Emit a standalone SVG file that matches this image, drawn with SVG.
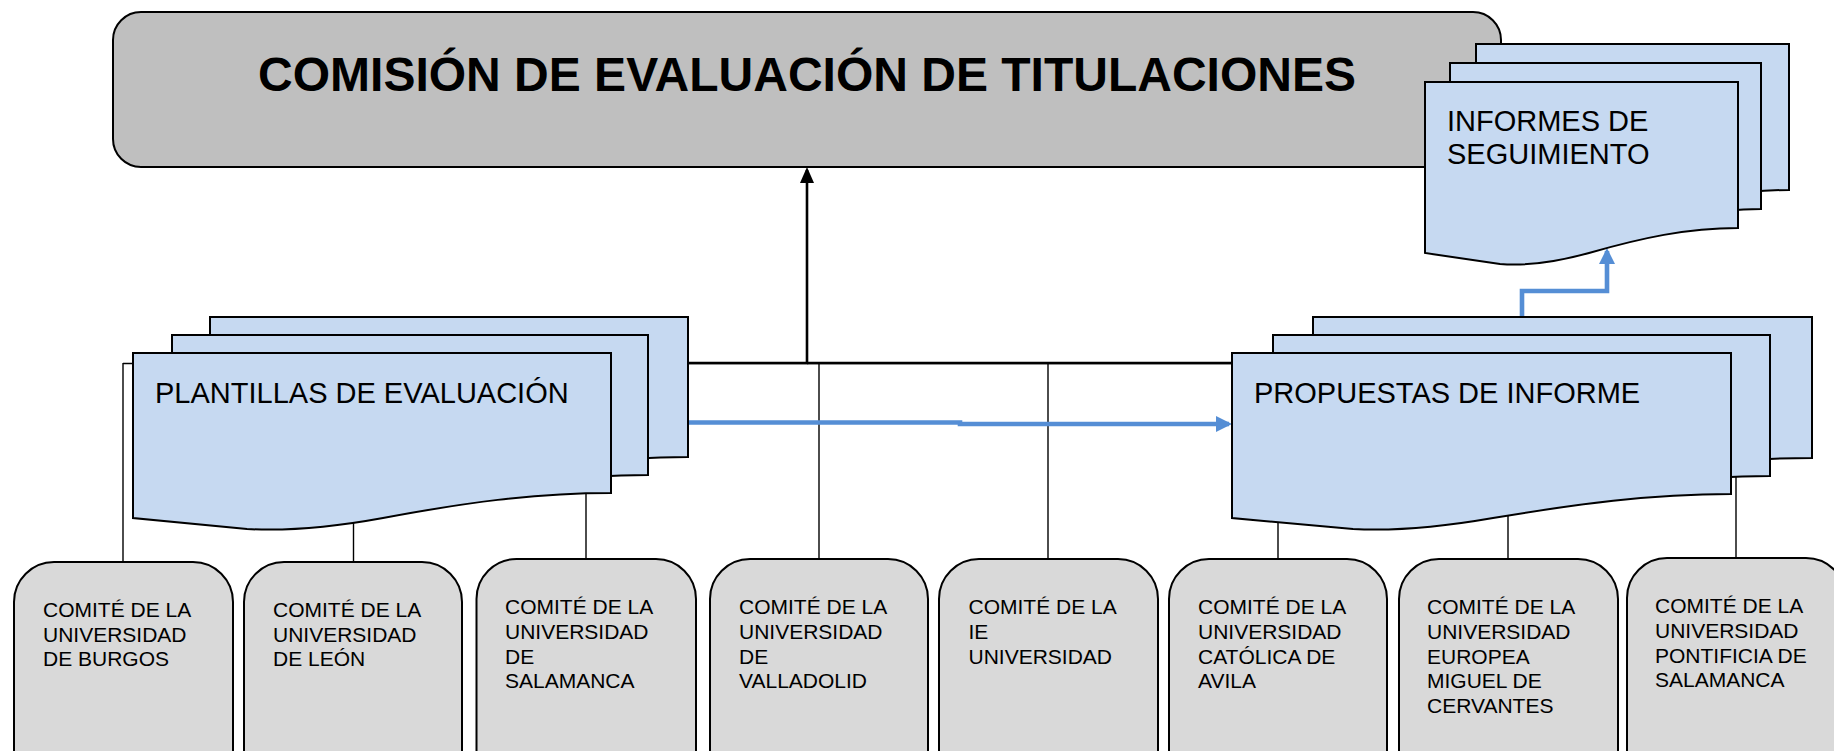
<svg xmlns="http://www.w3.org/2000/svg" width="1834" height="751" viewBox="0 0 1834 751">
<style>
.txt{font-family:"Liberation Sans",Arial,sans-serif;fill:#000}
.title{font-size:48px;font-weight:bold}
.doc{fill:#c6d9f1;stroke:#000;stroke-width:2;stroke-linejoin:miter}
.dtext{font-size:29px}
.cbox{fill:#d9d9d9;stroke:#000;stroke-width:2}
.ctext{font-size:21px}
.thin{fill:none;stroke:#000;stroke-width:1.4}
.thick{fill:none;stroke:#000;stroke-width:2.6}
.blue{fill:none;stroke:#558ed5;stroke-width:4.6}
</style>
<defs>
<marker id="ab" markerUnits="userSpaceOnUse" markerWidth="16" markerHeight="14" viewBox="0 0 16 14" refX="13" refY="7" orient="auto"><path d="M0,0 L16,7 L0,14 Z" fill="#000"/></marker>
<marker id="abl" markerUnits="userSpaceOnUse" markerWidth="16" markerHeight="16" viewBox="0 0 16 16" refX="13" refY="8" orient="auto"><path d="M0,0 L16,8 L0,16 Z" fill="#558ed5"/></marker>
</defs>
<rect width="1834" height="751" fill="#fff"/>

<g id="comision">
<rect x="113" y="12" width="1388" height="155" rx="28" ry="28" fill="#bfbfbf" stroke="#000" stroke-width="2"/>
<text class="txt title" x="807" y="91" text-anchor="middle">COMISIÓN DE EVALUACIÓN DE TITULACIONES</text>
</g>

<g id="connectors">
<path class="thin" d="M123,363.5 H1736"/>
<path class="thin" d="M123,363 V562"/>
<path class="thin" d="M353.5,363 V562"/>
<path class="thin" d="M586,363 V559"/>
<path class="thin" d="M819,363 V559"/>
<path class="thin" d="M1048,363 V559"/>
<path class="thin" d="M1278,363 V559"/>
<path class="thin" d="M1508,363 V559"/>
<path class="thin" d="M1736,363 V559"/>
<path class="thick" d="M689,363 H807 V170" marker-end="url(#ab)"/>
<path class="thick" d="M1232,363 H807"/>
<path class="blue" d="M689,422.5 H960 V424 H1229" marker-end="url(#abl)"/>
<path class="blue" d="M1522,317 V291 H1607 V251" marker-end="url(#abl)"/>
</g>

<g id="informes">
<path class="doc" transform="translate(1476,44)" d="M0,0 H313 V146 C262,146 216,156 164,171 C124,182 98,184 75,182 L0,171 Z"/>
<path class="doc" transform="translate(1450,63)" d="M0,0 H311 V146 C262,146 216,156 164,171 C124,182 98,184 75,182 L0,171 Z"/>
<path class="doc" transform="translate(1425,82)" d="M0,0 H313 V146 C262,146 216,156 164,171 C124,182 98,184 75,182 L0,171 Z"/>
<text class="txt dtext" x="1447" y="131">INFORMES DE</text>
<text class="txt dtext" x="1447" y="164">SEGUIMIENTO</text>
</g>

<g id="plantillas">
<path class="doc" transform="translate(210,317)" d="M0,0 H478 V140 C400,140 330,150 250,165 C190,176 150,178 114,176 L0,165 Z"/>
<path class="doc" transform="translate(172,335)" d="M0,0 H476 V140 C400,140 330,150 250,165 C190,176 150,178 114,176 L0,165 Z"/>
<path class="doc" transform="translate(133,353)" d="M0,0 H478 V140 C400,140 330,150 250,165 C190,176 150,178 114,176 L0,165 Z"/>
<text class="txt dtext" x="155" y="403">PLANTILLAS DE EVALUACIÓN</text>
</g>

<g id="propuestas">
<path class="doc" transform="translate(1313,317)" d="M0,0 H499 V141 C418,141 345,151 261,165 C198,176 157,178 121,176 L0,165 Z"/>
<path class="doc" transform="translate(1273,335)" d="M0,0 H497 V141 C418,141 345,151 261,165 C198,176 157,178 121,176 L0,165 Z"/>
<path class="doc" transform="translate(1232,353)" d="M0,0 H499 V141 C418,141 345,151 261,165 C198,176 157,178 121,176 L0,165 Z"/>
<text class="txt dtext" x="1254" y="403">PROPUESTAS DE INFORME</text>
</g>

<g id="burgos">
<rect class="cbox" x="14" y="562" width="219" height="260" rx="40" ry="40"/>
<text class="txt ctext" x="43" y="617">COMITÉ DE LA</text>
<text class="txt ctext" x="43" y="641.7">UNIVERSIDAD</text>
<text class="txt ctext" x="43" y="666.4">DE BURGOS</text>
</g>
<g id="leon">
<rect class="cbox" x="244" y="562" width="218" height="260" rx="40" ry="40"/>
<text class="txt ctext" x="273" y="617">COMITÉ DE LA</text>
<text class="txt ctext" x="273" y="641.7">UNIVERSIDAD</text>
<text class="txt ctext" x="273" y="666.4">DE LEÓN</text>
</g>
<g id="salamanca">
<rect class="cbox" x="476.5" y="559" width="219.5" height="260" rx="40" ry="40"/>
<text class="txt ctext" x="505" y="614.3">COMITÉ DE LA</text>
<text class="txt ctext" x="505" y="639">UNIVERSIDAD</text>
<text class="txt ctext" x="505" y="663.7">DE</text>
<text class="txt ctext" x="505" y="688.4">SALAMANCA</text>
</g>
<g id="valladolid">
<rect class="cbox" x="710" y="559" width="218" height="260" rx="40" ry="40"/>
<text class="txt ctext" x="739" y="614.3">COMITÉ DE LA</text>
<text class="txt ctext" x="739" y="639">UNIVERSIDAD</text>
<text class="txt ctext" x="739" y="663.7">DE</text>
<text class="txt ctext" x="739" y="688.4">VALLADOLID</text>
</g>
<g id="ie">
<rect class="cbox" x="939" y="559" width="219" height="260" rx="40" ry="40"/>
<text class="txt ctext" x="968.5" y="614.3">COMITÉ DE LA</text>
<text class="txt ctext" x="968.5" y="639">IE</text>
<text class="txt ctext" x="968.5" y="663.7">UNIVERSIDAD</text>
</g>
<g id="catolica">
<rect class="cbox" x="1169" y="559" width="218" height="260" rx="40" ry="40"/>
<text class="txt ctext" x="1198" y="614.3">COMITÉ DE LA</text>
<text class="txt ctext" x="1198" y="639">UNIVERSIDAD</text>
<text class="txt ctext" x="1198" y="663.7">CATÓLICA DE</text>
<text class="txt ctext" x="1198" y="688.4">AVILA</text>
</g>
<g id="europea">
<rect class="cbox" x="1399" y="559" width="219" height="260" rx="40" ry="40"/>
<text class="txt ctext" x="1427" y="614.3">COMITÉ DE LA</text>
<text class="txt ctext" x="1427" y="639">UNIVERSIDAD</text>
<text class="txt ctext" x="1427" y="663.7">EUROPEA</text>
<text class="txt ctext" x="1427" y="688.4">MIGUEL DE</text>
<text class="txt ctext" x="1427" y="713.1">CERVANTES</text>
</g>
<g id="pontificia">
<rect class="cbox" x="1627" y="558" width="219" height="260" rx="40" ry="40"/>
<text class="txt ctext" x="1655" y="613.3">COMITÉ DE LA</text>
<text class="txt ctext" x="1655" y="638">UNIVERSIDAD</text>
<text class="txt ctext" x="1655" y="662.7">PONTIFICIA DE</text>
<text class="txt ctext" x="1655" y="687.4">SALAMANCA</text>
</g>
</svg>
